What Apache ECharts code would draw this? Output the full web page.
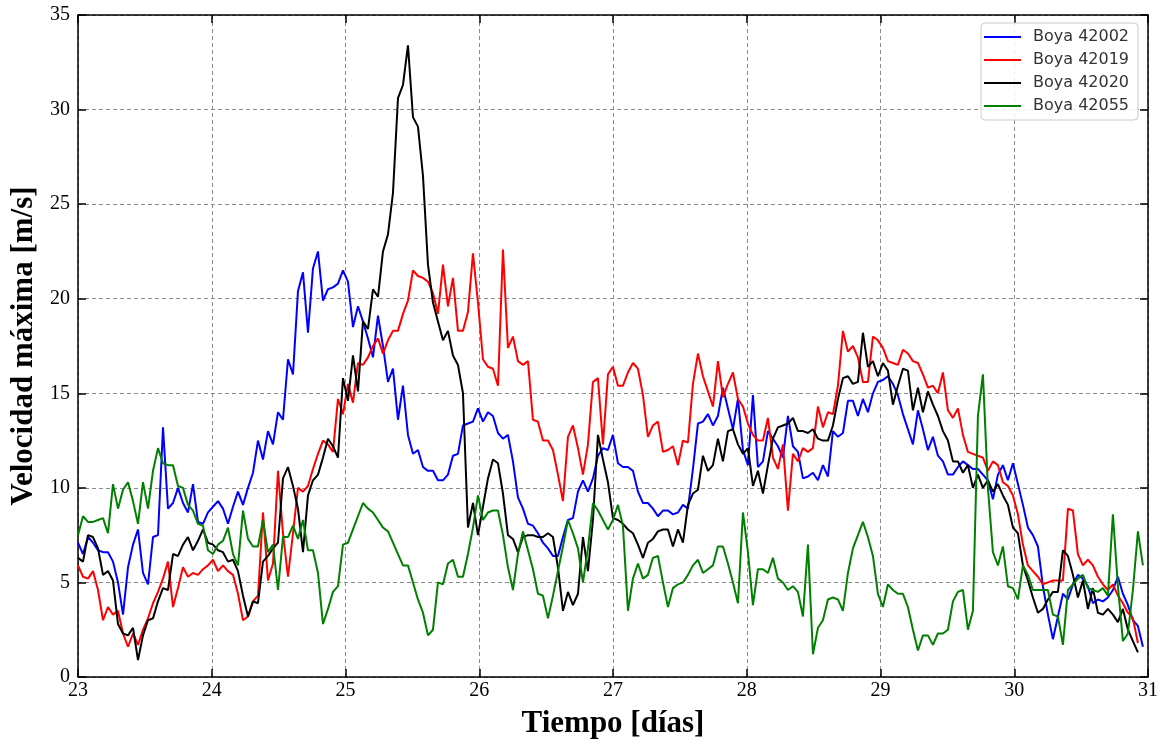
<!DOCTYPE html>
<html>
<head>
<meta charset="utf-8">
<script src="https://cdn.jsdelivr.net/npm/echarts@6/dist/echarts.min.js"></script>
<style>
html,body{margin:0;padding:0;background:#fff;}
#chart{width:1162px;height:744px;}
</style>
</head>
<body>
<div id="chart"></div>
<script>
// Tiempo (días): primer instante y paso entre muestras
const tInicio = 23;
const pasoDias = 0.03738;

const nombres = ['Boya 42002', 'Boya 42019', 'Boya 42020', 'Boya 42055'];
const colores = ['#0000ff', '#ff0000', '#000000', '#008000'];

const boya42002 = [7.1,6.5,7.4,7.1,6.7,6.6,6.6,6.1,5.0,3.3,
5.8,7.0,7.8,5.5,4.9,7.4,7.5,13.2,8.9,9.2,
10.0,9.2,8.7,10.2,8.2,8.1,8.7,9.0,9.3,8.9,
8.1,9.0,9.8,9.1,10.0,10.8,12.5,11.5,13.0,12.3,
14.0,13.6,16.8,16.0,20.4,21.4,18.2,21.6,22.5,19.9,
20.5,20.6,20.8,21.5,20.9,18.5,19.6,18.8,17.9,16.9,
19.1,17.5,15.6,16.3,13.6,15.4,12.8,11.8,12.0,11.1,
10.9,10.9,10.4,10.4,10.7,11.7,11.8,13.3,13.4,13.5,
14.2,13.5,14.0,13.8,12.9,12.6,12.8,11.4,9.5,8.9,
8.1,8.0,7.6,7.1,6.8,6.4,6.4,7.4,8.3,8.4,
9.8,10.4,9.8,10.5,11.7,12.1,12.0,12.8,11.3,11.1,
11.1,10.9,9.8,9.2,9.2,8.9,8.5,8.8,8.8,8.6,
8.7,9.1,8.9,11.0,13.4,13.5,13.9,13.3,13.8,15.3,
14.2,13.1,14.7,12.0,11.2,14.9,11.1,11.4,13.0,12.6,
12.2,11.6,13.8,12.2,11.9,10.5,10.6,10.8,10.4,11.2,
10.6,13.0,12.7,12.9,14.6,14.6,13.8,14.7,14.0,15.0,
15.6,15.7,15.9,15.5,14.9,13.9,13.1,12.3,14.1,13.1,
12.0,12.7,11.7,11.4,10.7,10.7,11.1,11.4,11.2,11.0,
11.0,10.7,10.4,9.4,10.7,11.2,10.4,11.3,10.2,9.1,
7.9,7.5,6.9,4.8,3.3,2.0,3.2,4.4,4.1,4.9,
5.4,5.2,4.8,3.9,4.1,4.0,4.2,4.6,5.3,4.4,
3.8,3.0,2.7,1.6];

const boya42019 = [5.9,5.3,5.2,5.6,4.6,3.0,3.7,3.3,3.5,2.3,
1.6,2.3,1.7,2.5,3.1,3.9,4.5,5.2,6.1,3.7,
4.7,5.8,5.3,5.5,5.4,5.7,5.9,6.2,5.6,5.9,
5.6,5.4,4.4,3.0,3.2,4.0,4.3,8.7,5.1,6.0,
10.9,7.6,5.3,7.6,10.0,9.8,10.1,11.0,11.8,12.5,
12.3,11.9,14.7,13.9,15.5,14.5,16.6,16.5,16.9,17.5,
17.9,17.1,17.8,18.3,18.3,19.2,19.9,21.5,21.2,21.1,
20.9,20.3,19.2,21.8,19.6,21.1,18.3,18.3,19.3,22.4,
19.8,16.8,16.4,16.3,15.4,22.6,17.4,18.0,16.7,16.5,
16.7,13.6,13.5,12.5,12.5,12.0,10.7,9.3,12.7,13.3,
12.1,10.7,12.3,15.6,15.8,12.3,16.0,16.4,15.4,15.4,
16.1,16.6,16.3,14.9,12.7,13.3,13.5,11.9,12.0,12.2,
11.2,12.5,12.4,15.5,17.1,15.9,15.1,14.3,16.7,14.8,
15.5,16.1,14.7,14.3,13.4,12.8,12.5,12.5,13.7,11.6,
11.0,12.3,8.8,11.8,11.4,12.1,11.9,12.1,14.3,13.2,
14.0,13.9,15.4,18.3,17.2,17.5,16.9,15.6,15.6,18.0,
17.8,17.4,16.7,16.6,16.5,17.3,17.1,16.7,16.6,16.0,
15.3,15.4,15.0,16.1,14.1,13.7,14.2,12.8,11.9,11.8,
11.7,11.6,10.9,11.4,11.2,10.3,10.1,9.6,8.6,7.0,
5.9,5.6,5.3,4.9,5.0,5.1,5.1,5.1,8.9,8.8,
6.5,5.9,6.2,5.9,5.3,4.9,4.6,4.9,4.3,3.9,
3.4,3.1,1.8];

const boya42020 = [6.3,6.1,7.5,7.4,6.8,5.4,5.6,5.1,2.8,2.3,
2.2,2.6,0.9,2.2,3.0,3.1,4.0,4.7,4.6,6.5,
6.4,7.0,7.4,6.7,7.2,7.8,7.1,7.0,6.7,6.6,
6.1,6.2,5.6,4.3,3.2,4.0,3.9,6.1,6.4,6.8,
7.1,10.5,11.1,10.1,8.9,6.6,9.6,10.4,10.7,11.6,
12.6,12.2,11.6,15.8,14.6,17.0,15.1,18.8,18.4,20.5,
20.1,22.5,23.4,25.6,30.6,31.3,33.4,29.6,29.1,26.5,
21.8,19.8,18.8,17.8,18.3,17.0,16.5,15.0,7.9,9.2,
7.5,9.0,10.5,11.5,11.3,9.7,7.5,7.3,6.6,7.4,
7.5,7.5,7.4,7.4,7.6,7.4,5.8,3.5,4.5,3.8,
4.4,7.4,5.6,8.3,12.8,11.5,10.3,8.4,8.3,8.1,
7.8,7.6,7.0,6.3,7.1,7.3,7.7,7.8,7.8,6.9,
7.8,7.1,9.1,9.7,9.9,11.7,10.9,11.2,12.6,11.4,
13.0,13.1,12.3,11.8,12.1,10.1,10.9,9.7,11.2,12.6,
13.2,13.3,13.4,13.7,13.0,13.0,12.9,13.1,12.6,12.5,
12.5,13.3,14.7,15.8,15.9,15.5,15.6,18.2,16.4,16.7,
15.9,16.6,16.2,14.4,15.4,16.3,16.2,14.1,15.3,14.0,
15.1,14.4,13.8,13.0,12.5,11.4,11.4,10.8,11.2,10.0,
10.7,10.0,10.4,9.8,10.2,9.6,9.1,7.9,7.6,5.9,
5.1,4.2,3.4,3.6,4.1,4.5,4.5,6.7,6.4,5.4,
4.2,5.1,3.6,4.7,3.4,3.3,3.6,3.3,2.9,3.6,
2.5,1.9,1.3];

const boya42055 = [7.5,8.5,8.2,8.2,8.3,8.4,7.6,10.2,8.9,9.9,
10.3,9.3,8.1,10.3,8.9,10.9,12.1,11.3,11.2,11.2,
10.1,10.0,9.1,8.8,8.1,8.0,6.7,6.5,7.0,7.2,
7.9,6.5,5.9,8.8,7.3,6.9,6.9,8.3,6.6,7.0,
4.6,7.4,7.4,8.0,7.3,8.3,6.7,6.7,5.5,2.8,
3.6,4.5,4.8,7.0,7.1,7.8,8.5,9.2,8.9,8.7,
8.3,7.9,7.7,7.1,6.5,5.9,5.9,5.0,4.1,3.4,
2.2,2.5,5.0,4.9,6.0,6.2,5.3,5.3,6.5,7.9,
9.6,8.3,8.7,8.8,8.8,7.5,5.8,4.6,6.5,7.7,
6.7,5.7,4.4,4.3,3.1,4.3,5.6,6.9,8.3,7.6,
6.8,5.0,6.8,9.2,8.8,8.3,7.8,8.3,9.1,8.0,
3.5,5.2,6.0,5.2,5.4,6.3,6.4,5.0,3.7,4.7,
4.9,5.0,5.4,5.9,6.2,5.5,5.7,5.9,6.9,6.9,
6.0,5.0,3.9,8.7,6.6,3.8,5.7,5.7,5.5,6.3,
5.2,5.0,4.6,4.8,4.5,3.2,7.0,1.2,2.6,3.0,
4.1,4.2,4.1,3.5,5.5,6.8,7.5,8.2,7.4,6.4,
4.4,3.7,4.9,4.6,4.4,4.4,3.7,2.5,1.4,2.2,
2.2,1.7,2.3,2.3,2.5,4.0,4.5,4.6,2.5,3.5,
13.8,16.0,10.0,6.6,5.9,6.9,4.8,4.7,4.1,5.9,
5.4,4.6,4.6,4.6,4.6,3.3,3.2,1.7,4.6,4.9,
5.2,5.4,4.7,4.6,4.5,4.7,4.3,8.6,4.8,1.9,
2.3,4.6,7.7,5.9];

const ticksX = {min: 23, max: 31, step: 1};
const ticksY = {min: 0, max: 35, step: 5};

const serif = "'Liberation Serif','Times New Roman',serif";
const valores = [boya42002, boya42019, boya42020, boya42055];

function conTiempo(v) {
  return v.map((y, i) => [tInicio + i * pasoDias, y]);
}

const ejeLinea = {show: true, onZero: false, lineStyle: {color: '#000', width: 1.5}};
const ejeTick = {show: true, inside: true, length: 8, lineStyle: {color: '#000', width: 1.5}};
const rejilla = {show: true, lineStyle: {type: [4, 3], color: '#8a8a8a', width: 1}};

const chart = echarts.init(document.getElementById('chart'), null, {renderer: 'canvas'});
chart.setOption({
  animation: false,
  backgroundColor: '#fff',
  grid: {left: 78, right: 14, top: 15, bottom: 64, containLabel: false},
  legend: {
    orient: 'vertical',
    left: 981,
    top: 23,
    data: nombres,
    icon: 'rect',
    itemWidth: 37,
    itemHeight: 2,
    itemGap: 5,
    padding: [5, 9, 5, 3],
    backgroundColor: 'rgba(255,255,255,0.85)',
    borderColor: '#cccccc',
    borderWidth: 1,
    borderRadius: 4,
    textStyle: {fontFamily: "'DejaVu Sans',sans-serif", fontSize: 16, color: '#333', lineHeight: 18, padding: [0, 0, 0, 7]}
  },
  xAxis: [{
    type: 'value', min: ticksX.min, max: ticksX.max, interval: ticksX.step, position: 'bottom',
    axisLine: ejeLinea, axisTick: ejeTick,
    axisLabel: {fontFamily: serif, fontSize: 20, color: '#000', margin: 4},
    splitLine: rejilla,
    name: 'Tiempo [días]', nameLocation: 'middle', nameGap: 31,
    nameTextStyle: {fontFamily: serif, fontWeight: 'bold', fontSize: 31, color: '#000'}
  }, {
    type: 'value', min: ticksX.min, max: ticksX.max, interval: ticksX.step, position: 'top',
    axisLine: ejeLinea, axisTick: ejeTick, axisLabel: {show: false}, splitLine: {show: false}
  }],
  yAxis: [{
    type: 'value', min: ticksY.min, max: ticksY.max, interval: ticksY.step, position: 'left',
    axisLine: ejeLinea, axisTick: ejeTick,
    axisLabel: {fontFamily: serif, fontSize: 20, color: '#000', margin: 8},
    splitLine: rejilla,
    name: 'Velocidad máxima [m/s]', nameLocation: 'middle', nameGap: 38, nameRotate: 90,
    nameTextStyle: {fontFamily: serif, fontWeight: 'bold', fontSize: 31, color: '#000'}
  }, {
    type: 'value', min: ticksY.min, max: ticksY.max, interval: ticksY.step, position: 'right',
    axisLine: ejeLinea, axisTick: ejeTick, axisLabel: {show: false}, splitLine: {show: false}
  }],
  series: valores.map((v, k) => ({
    name: nombres[k],
    type: 'line',
    xAxisIndex: 0,
    yAxisIndex: 0,
    data: conTiempo(v),
    showSymbol: false,
    symbol: 'none',
    color: colores[k],
    lineStyle: {color: colores[k], width: 2},
    z: 2 + k
  }))
});
</script>
</body>
</html>
